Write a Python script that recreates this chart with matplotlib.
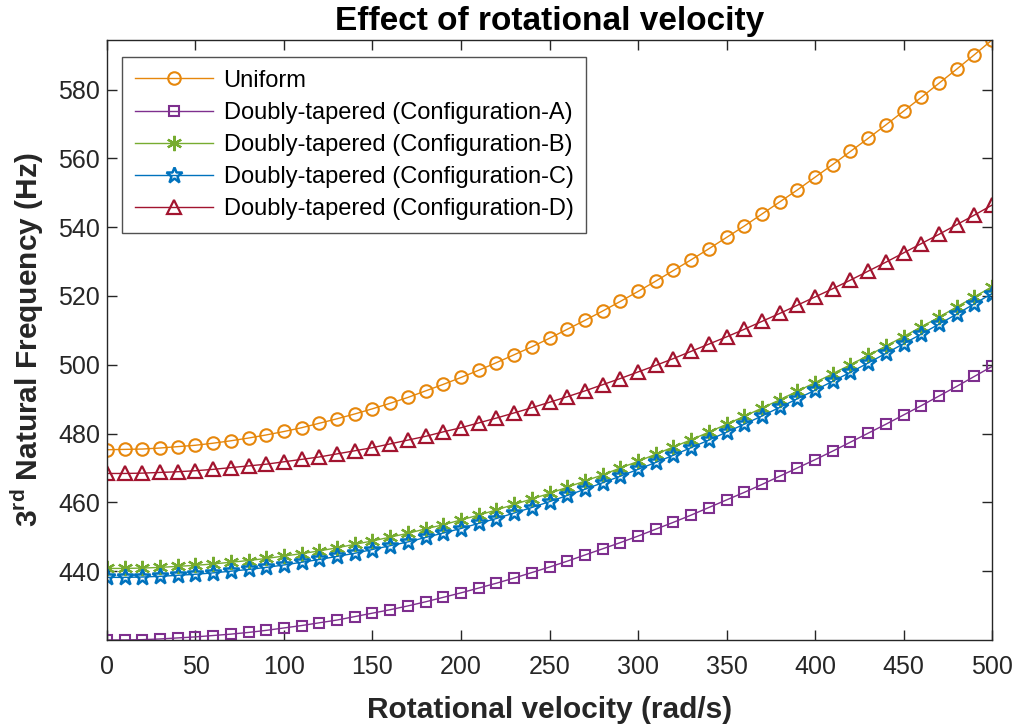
import matplotlib
matplotlib.use("Agg")
import matplotlib.pyplot as plt

# rotational velocity (rad/s)
omega = list(range(0, 501, 10))

uniform = [475.3, 475.4, 475.5, 475.8, 476.2, 476.6, 477.2, 477.9, 478.7, 479.6,
           480.6, 481.7, 483.0, 484.3, 485.7, 487.2, 488.8, 490.5, 492.4, 494.3,
           496.3, 498.4, 500.6, 502.9, 505.2, 507.7, 510.3, 512.9, 515.6, 518.4,
           521.3, 524.3, 527.4, 530.5, 533.7, 537.0, 540.3, 543.8, 547.3, 550.8,
           554.5, 558.2, 562.0, 565.8, 569.7, 573.7, 577.7, 581.8, 585.9, 590.1,
           594.4]
config_a = [420.0, 420.0, 420.1, 420.3, 420.6, 420.9, 421.3, 421.7, 422.2, 422.8,
            423.5, 424.2, 425.0, 425.8, 426.8, 427.8, 428.8, 429.9, 431.1, 432.4,
            433.7, 435.1, 436.5, 438.0, 439.6, 441.2, 442.9, 444.7, 446.5, 448.3,
            450.2, 452.2, 454.2, 456.3, 458.5, 460.7, 462.9, 465.2, 467.6, 470.0,
            472.4, 474.9, 477.5, 480.1, 482.7, 485.4, 488.1, 490.9, 493.7, 496.6,
            499.5]
config_b = [440.8, 440.8, 440.9, 441.1, 441.4, 441.7, 442.1, 442.6, 443.1, 443.7,
            444.4, 445.1, 445.9, 446.8, 447.8, 448.8, 449.9, 451.0, 452.3, 453.5,
            454.9, 456.3, 457.8, 459.4, 461.0, 462.6, 464.4, 466.2, 468.0, 470.0,
            471.9, 474.0, 476.1, 478.2, 480.4, 482.7, 485.0, 487.4, 489.8, 492.3,
            494.8, 497.4, 500.0, 502.7, 505.4, 508.2, 511.0, 513.8, 516.8, 519.7,
            522.7]
config_c = [438.2, 438.2, 438.3, 438.5, 438.8, 439.1, 439.5, 440.0, 440.5, 441.1,
            441.8, 442.6, 443.4, 444.3, 445.2, 446.3, 447.4, 448.5, 449.8, 451.1,
            452.4, 453.9, 455.3, 456.9, 458.5, 460.2, 462.0, 463.8, 465.7, 467.6,
            469.6, 471.6, 473.7, 475.9, 478.1, 480.4, 482.7, 485.1, 487.6, 490.1,
            492.6, 495.2, 497.8, 500.5, 503.3, 506.1, 508.9, 511.8, 514.7, 517.7,
            520.7]
config_d = [468.4, 468.4, 468.5, 468.7, 468.9, 469.2, 469.6, 470.1, 470.6, 471.1,
            471.8, 472.5, 473.2, 474.1, 475.0, 475.9, 477.0, 478.1, 479.2, 480.5,
            481.7, 483.1, 484.5, 486.0, 487.5, 489.1, 490.7, 492.4, 494.2, 496.0,
            497.9, 499.8, 501.8, 503.9, 506.0, 508.1, 510.3, 512.6, 514.9, 517.3,
            519.7, 522.1, 524.6, 527.2, 529.8, 532.5, 535.2, 537.9, 540.7, 543.5,
            546.4]

labels = ["Uniform",
          "Doubly-tapered (Configuration-A)",
          "Doubly-tapered (Configuration-B)",
          "Doubly-tapered (Configuration-C)",
          "Doubly-tapered (Configuration-D)"]

plt.rcParams['font.family'] = ['Liberation Sans', 'DejaVu Sans']
plt.rcParams['mathtext.fontset'] = 'custom'
plt.rcParams['mathtext.rm'] = 'Liberation Sans:bold'

fig = plt.figure(figsize=(10.16, 7.28), dpi=100)
ax = fig.add_axes([0.1053, 0.1209, 0.8711, 0.8242])

styles = [
    (uniform, '#E6870C', 'o', 9, 1.5),
    (config_a, '#7E2F8E', 's', 7, 1.5),
    (config_b, '#77AC30', (6, 2, 0), 11, 1.6),
    (config_c, '#0072BD', '*', 12, 1.8),
    (config_d, '#A2142F', '^', 10, 1.6),
]
for (vals, col, mk, ms, mew), lab in zip(styles, labels):
    ax.plot(omega, vals, color=col, lw=1.0, marker=mk, ms=ms,
            mfc='none', mec=col, mew=mew, label=lab)

ax.set_xlim(0, 500)
ax.set_ylim(min(config_a), max(uniform))
ax.set_xticks(range(0, 501, 50))
ax.set_yticks(range(440, 581, 20))

for s in ax.spines.values():
    s.set_color('#262626')
    s.set_linewidth(1.0)
ax.tick_params(direction='in', length=7, width=1.0, colors='#262626',
               labelsize=18, top=True, right=True)
ax.tick_params(axis='x', pad=11)
ax.tick_params(axis='y', pad=5)

ax.set_xlabel("Rotational velocity (rad/s)", fontsize=21.5, fontweight='bold',
              color='#262626', labelpad=12)
ax.set_ylabel("3$^{\\mathrm{rd}}$ Natural Frequency (Hz)", fontsize=21.5,
              fontweight='bold', color='#262626', labelpad=9)
ax.set_title("Effect of rotational velocity", fontsize=24, fontweight='bold',
             pad=7)

leg = ax.legend(loc='upper left', bbox_to_anchor=(0.017, 0.972), fontsize=17,
                frameon=True, fancybox=False, edgecolor='#262626',
                handlelength=3.3, labelspacing=0.43, borderpad=0.55,
                handletextpad=0.45, borderaxespad=0)
leg.get_frame().set_linewidth(1.0)

fig.savefig("out.png", dpi=100)
